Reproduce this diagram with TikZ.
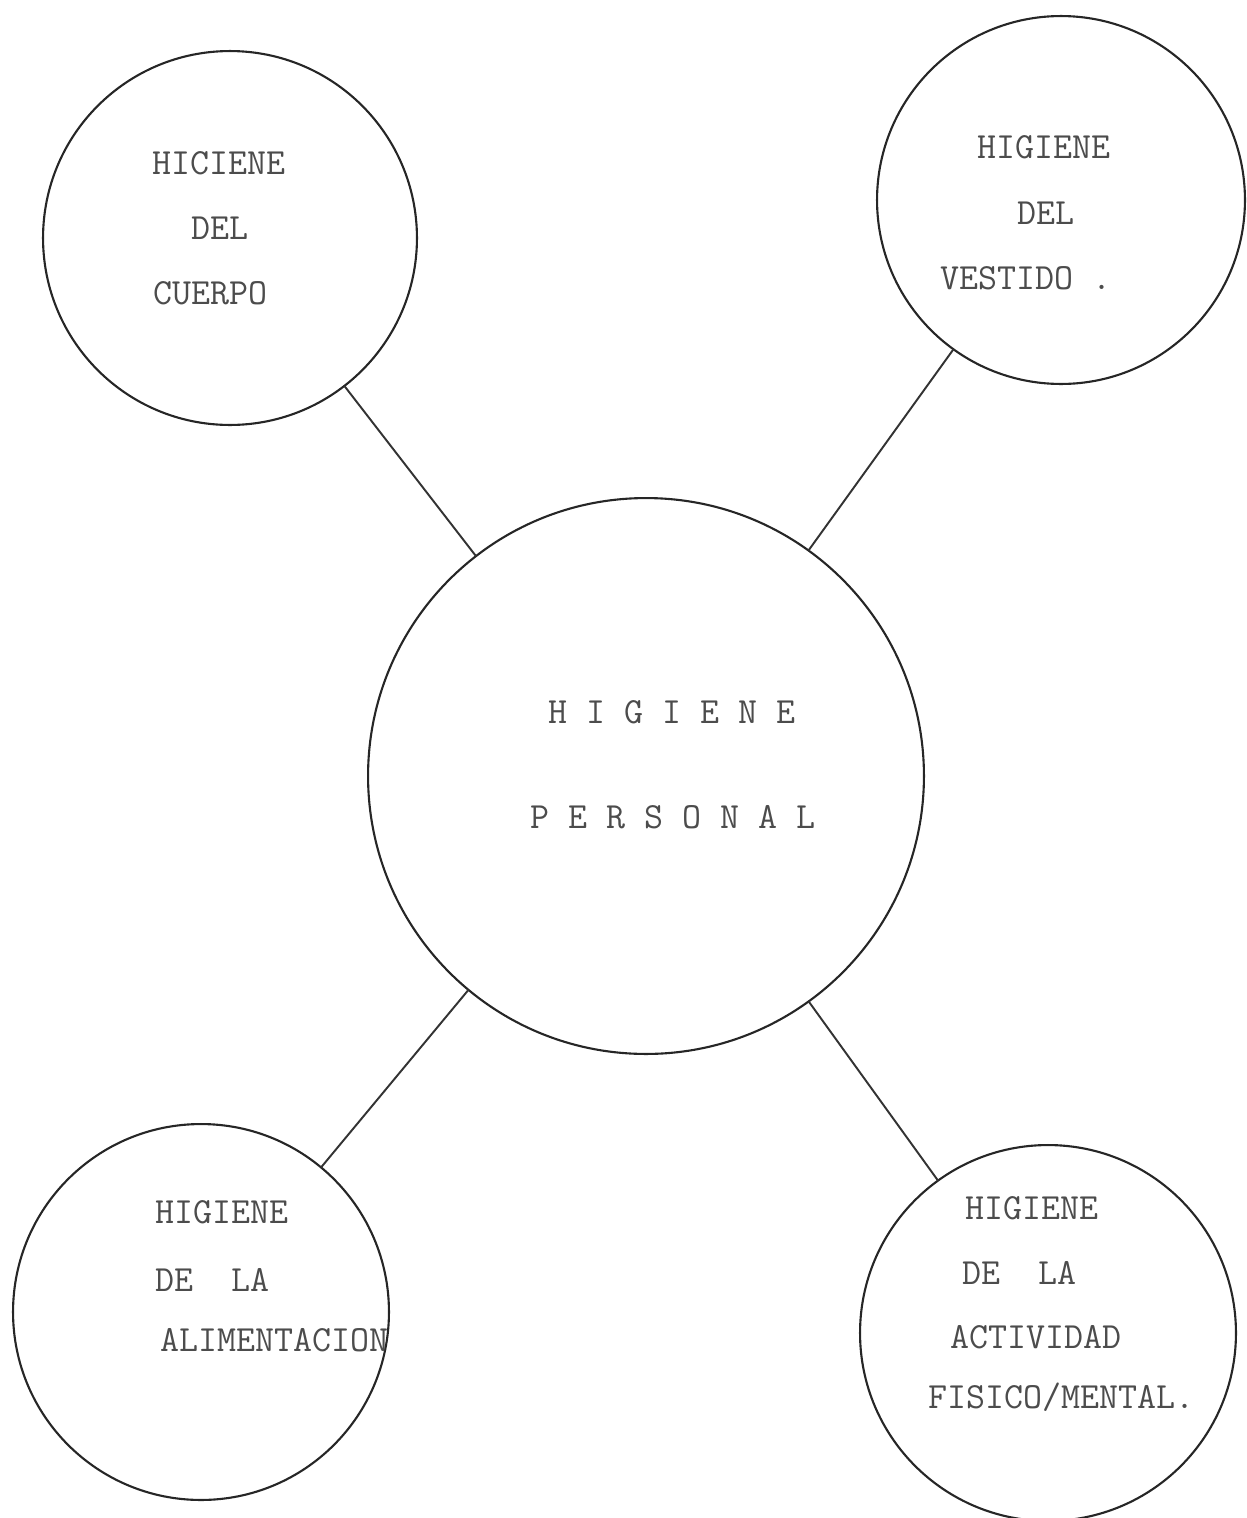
\documentclass[tikz,border=0pt]{standalone}
\usepackage{fontspec}

\begin{document}
\begin{tikzpicture}[
  x=0.02cm, y=-0.02cm,
  every node/.style={font=\ttfamily\fontsize{21}{25}\selectfont},
  topic/.style={circle, draw=black!85, line width=1.2pt, inner sep=0pt, outer sep=0pt},
  typed/.style={text=black!70, anchor=west, inner sep=0pt},
  link/.style={draw=black!80, line width=1.1pt}
]
\useasboundingbox (0,0) rectangle (1247,1518);
% the five circles
\node[topic, minimum size=11.12cm] (personal) at (646,776) {};
\node[topic, minimum size=7.48cm] (cuerpo) at (230,238) {};
\node[topic, minimum size=7.36cm] (vestido) at (1061,200) {};
\node[topic, minimum size=7.52cm] (alimento) at (201,1312) {};
\node[topic, minimum size=7.52cm] (actividad) at (1048,1333) {};
% typed labels
\node[typed] (personalA) at (548,712) {H I G I E N E};
\node[typed] (personalB) at (530,817) {P E R S O N A L};
\node[typed] (cuerpoA) at (152,163) {HICIENE};
\node[typed] (cuerpoB) at (191,228) {DEL};
\node[typed] (cuerpoC) at (153,293) {CUERPO};
\node[typed] (vestidoA) at (977,147) {HIGIENE};
\node[typed] (vestidoB) at (1017,213) {DEL};
\node[typed] (vestidoC) at (940,278) {VESTIDO .};
\node[typed] (alimentoA) at (155,1212) {HIGIENE};
\node[typed] (alimentoB) at (155,1280) {DE~~LA};
\node[typed] (alimentoC) at (160,1340) {ALIMENTACION};
\node[typed] (actividadA) at (965,1208) {HIGIENE};
\node[typed] (actividadB) at (962,1273) {DE~~LA};
\node[typed] (actividadC) at (950,1337) {ACTIVIDAD};
\node[typed] (actividadD) at (928,1397) {FISICO/MENTAL.};
% spokes
\draw[link] (cuerpo) -- (personal);
\draw[link] (vestido) -- (personal);
\draw[link] (alimento) -- (personal);
\draw[link] (actividad) -- (personal);
\end{tikzpicture}
\end{document}
